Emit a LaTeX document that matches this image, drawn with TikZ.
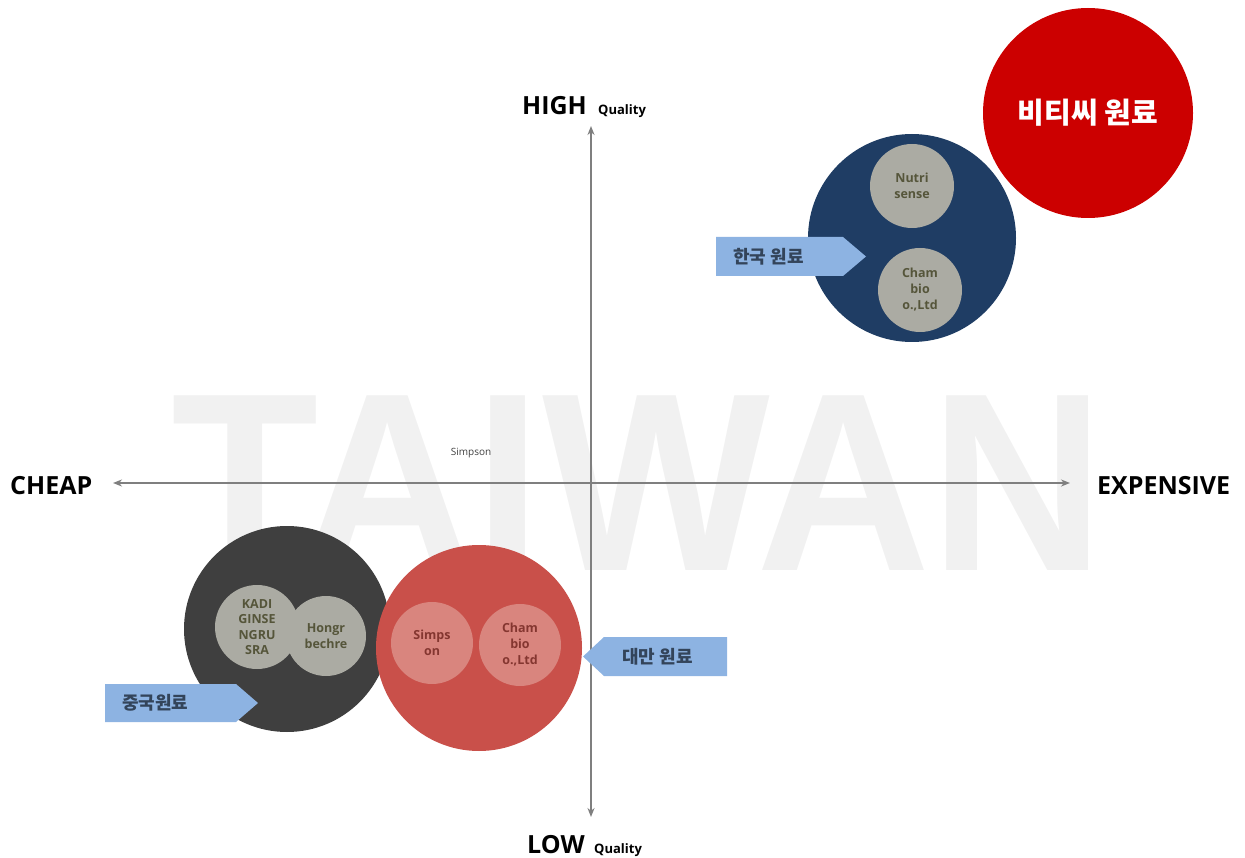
\documentclass[tikz,border=0pt]{standalone}
\usepackage{fontspec}
\setmainfont{Open Sans}
\newfontfamily\kr{Noto Sans CJK KR}
\newfontfamily\wmfont{Liberation Sans}
\usetikzlibrary{arrows.meta}
\definecolor{axisgray}{HTML}{7F7F7F}
\definecolor{btcred}{HTML}{CC0000}
\definecolor{navy}{HTML}{1F3D64}
\definecolor{darkc}{HTML}{3F3F3F}
\definecolor{twred}{HTML}{C9504A}
\definecolor{innergray}{HTML}{ABABA3}
\definecolor{innertext}{HTML}{55553A}
\definecolor{innerpink}{HTML}{D9857E}
\definecolor{pinktext}{HTML}{843630}
\definecolor{tagblue}{HTML}{8DB3E2}
\definecolor{tagtext}{HTML}{33445A}
\definecolor{wm}{HTML}{F1F1F1}
\tikzset{
  bigc/.style={circle, inner sep=0pt, minimum size=208pt},
  smallc/.style={circle, inner sep=0pt, minimum size=84pt, fill=innergray, text=innertext, align=center, font=\bfseries\fontsize{12.5}{16}\selectfont},
  pinkc/.style={circle, inner sep=0pt, minimum size=82pt, fill=innerpink, text=pinktext, align=center, font=\bfseries\fontsize{12.5}{16}\selectfont},
  tag/.style={fill=tagblue},
  tagtxt/.style={anchor=west, text=tagtext, font=\kr\bfseries\fontsize{18}{20}\selectfont, inner sep=0pt},
  axis/.style={draw=axisgray, line width=1.6pt, {Stealth[length=9pt,width=7pt]}-{Stealth[length=9pt,width=7pt]}},
  big/.style={font=\bfseries\fontsize{25}{28}\selectfont, inner sep=0pt},
  smallq/.style={font=\bfseries\fontsize{13}{15}\selectfont, inner sep=0pt}
}
\begin{document}
\begin{tikzpicture}[x=1pt,y=-1pt]
\useasboundingbox (0,0) rectangle (1245,858);
% watermark
\node[anchor=base, text=wm, font=\wmfont\bfseries\fontsize{254}{254}\selectfont, inner sep=0pt, text depth=0pt, xscale=0.95] (wmark) at (638,570) {TAIWAN};
% axes
\coordinate (top) at (591,126);
\coordinate (bot) at (591,817);
\coordinate (left) at (113,483);
\coordinate (right) at (1070,483);
\draw[axis] (left) -- (right);
\draw[axis] (bot) -- (top);
% axis labels
\node[big, anchor=base west] (high) at (522,115) {HIGH};
\node[smallq, anchor=base west] (hq) at (598,115) {Quality};
\node[big, anchor=base west] (low) at (527,853) {LOW};
\node[smallq, anchor=base west] (lq) at (594,853) {Quality};
\node[big, anchor=base west] (cheap) at (10,494) {CHEAP};
\node[big, anchor=base west] (exp) at (1097,494) {EXPENSIVE};
\node[text=darkgray, font=\fontsize{10}{11}\selectfont, inner sep=0pt] (simp) at (471,453) {Simpson};
% BTC
\node[bigc, fill=btcred, minimum size=210pt, text=white, font=\kr\bfseries\fontsize{29}{30}\selectfont] (btc) at (1088,113) {비티씨 원료};
% Korea
\node[bigc, fill=navy] (kor) at (912,238) {};
\node[smallc] (nutri) at (912,186) {Nutri\\sense};
\node[smallc] (chamk) at (920,290) {Cham\\bio\\o.,Ltd};
% China
\node[bigc, fill=darkc, minimum size=206pt] (chn) at (287,629) {};
\node[smallc, font=\bfseries\fontsize{12.5}{15.5}\selectfont] (kadi) at (257,627) {KADI\\GINSE\\NGRU\\SRA};
\node[smallc, minimum size=80pt] (hong) at (326,636) {Hongr\\bechre};
% Taiwan
\node[bigc, fill=twred, minimum size=206pt] (tw) at (479,648) {};
\node[pinkc] (simps) at (432,643) {Simps\\on};
\node[pinkc] (chamt) at (520,645) {Cham\\bio\\o.,Ltd};
% tags
\fill[tag] (716,237) -- (843,237) -- (866,256.5) -- (843,276) -- (716,276) -- cycle;
\node[tagtxt] (korlab) at (733,256.5) {한국 원료};
\fill[tag] (105,684) -- (236,684) -- (258,703) -- (236,722) -- (105,722) -- cycle;
\node[tagtxt] (chnlab) at (122,703) {중국원료};
\fill[tag] (583,656.5) -- (604,637) -- (727,637) -- (727,676) -- (604,676) -- cycle;
\node[tagtxt] (twlab) at (622,656.5) {대만 원료};
\end{tikzpicture}
\end{document}
